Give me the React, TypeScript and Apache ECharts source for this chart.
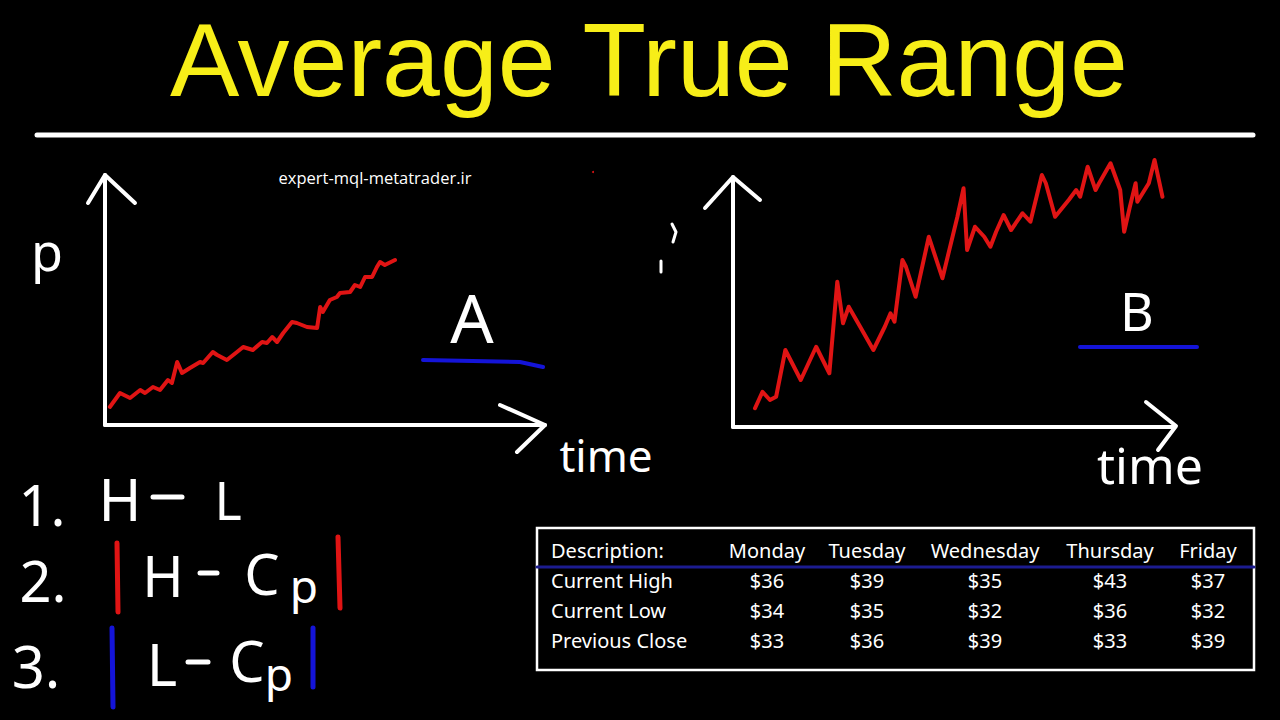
import React, { useEffect, useRef } from "react";
import * as echarts from "echarts";

// Chart A: slow, steady uptrend (time units 0..100, price units 0..100)
const chartATime = [1.1, 3.4, 5.7, 8.0, 9.1, 10.9, 12.5, 14.3, 15.2, 16.4, 17.5, 19.3, 21.6, 22.3, 24.5, 25.5, 27.7, 30.0, 31.4, 33.6, 35.7, 36.8, 38.0, 39.1, 40.5, 42.5, 43.6, 45.9, 48.2, 48.9, 49.5, 51.1, 52.7, 53.4, 55.7, 56.8, 58.0, 59.1, 60.7, 61.8, 62.5, 63.6, 65.9];
const chartAPrice = [7.2, 12.8, 10.8, 14.0, 12.8, 15.2, 14.0, 18.0, 16.8, 25.2, 20.8, 22.8, 25.2, 24.8, 29.2, 28.0, 26.0, 29.2, 31.2, 30.0, 33.2, 32.8, 35.2, 33.2, 36.8, 41.2, 40.8, 39.2, 38.8, 47.2, 45.2, 50.0, 51.2, 52.8, 53.2, 56.0, 55.2, 59.2, 59.2, 63.2, 65.2, 64.0, 66.0];

// Chart B: volatile uptrend
const chartBTime = [5.0, 6.7, 8.4, 9.8, 11.9, 15.4, 18.9, 21.9, 23.7, 25.0, 26.3, 28.9, 31.9, 34.5, 35.8, 36.7, 38.5, 39.3, 41.5, 44.5, 47.6, 51.0, 52.4, 53.2, 55.0, 57.1, 58.5, 59.8, 61.5, 63.2, 65.8, 67.6, 70.2, 71.1, 73.2, 76.3, 78.0, 78.9, 80.6, 82.4, 83.2, 85.8, 88.0, 88.9, 90.2, 91.5, 91.9, 94.5, 95.8, 97.6];
const chartBPrice = [7.5, 14.1, 10.8, 12.1, 30.8, 18.8, 32.1, 21.5, 58.1, 41.5, 48.1, 40.1, 30.8, 40.1, 45.5, 42.1, 66.8, 64.1, 52.1, 76.1, 59.5, 84.1, 95.5, 70.8, 80.1, 76.1, 72.1, 78.1, 84.8, 78.8, 85.5, 82.1, 100.8, 97.5, 84.1, 90.8, 94.8, 92.1, 104.1, 94.8, 97.5, 105.5, 94.8, 78.1, 88.1, 97.5, 90.1, 97.5, 106.8, 92.1];

// Table
const tableHeader = "Description:";
const tableDays = ["Monday", "Tuesday", "Wednesday", "Thursday", "Friday"];
const rowLabels = ["Current High", "Current Low", "Previous Close"];
const currentHigh = [36, 39, 35, 43, 37];
const currentLow = [34, 35, 32, 36, 32];
const previousClose = [33, 36, 39, 33, 39];

const TITLE = "Average True Range";
const WATERMARK = "expert-mql-metatrader.ir";

const WHITE = "#ffffff";
const RED = "#e01414";
const BLUE = "#1414d8";
const NAVY = "#1c1c90";
const YELLOW = "#f7ee18";
const FONT = '"Noto Sans", "DejaVu Sans", sans-serif';

function txt(text: string, x: number, y: number, size: number, opts: any = {}) {
  const style: any = {
    text,
    fill: opts.fill || WHITE,
    fontSize: size,
    fontFamily: opts.family || FONT,
    fontWeight: opts.weight || "normal",
    align: opts.align || "center",
    verticalAlign: "middle",
  };
  if (opts.lineHeight) style.lineHeight = opts.lineHeight;
  return { type: "text", x, y, silent: true, style };
}

function seg(points: number[][], color: string, width: number) {
  return {
    type: "polyline",
    silent: true,
    shape: { points },
    style: { stroke: color, lineWidth: width, fill: "none", lineCap: "round", lineJoin: "round" },
  };
}

export default function App() {
  const ref = useRef<HTMLDivElement>(null);

  useEffect(() => {
    if (!ref.current) return;
    const chart = echarts.init(ref.current, undefined, { renderer: "svg" });

    const dataA = chartATime.map((t, i) => [t, chartAPrice[i]]);
    const dataB = chartBTime.map((t, i) => [t, chartBPrice[i]]);

    const axisCommon = {
      type: "value",
      min: 0,
      max: 100,
      axisLine: { show: true, onZero: false, lineStyle: { color: WHITE, width: 4, cap: "round" } },
      axisTick: { show: false },
      axisLabel: { show: false },
      splitLine: { show: false },
    };

    // table graphics
    const colX = [767, 867, 985, 1110, 1208];
    const rowY = [580, 610, 640];
    const rows = [currentHigh, currentLow, previousClose];
    const tableEls: any[] = [
      {
        type: "rect",
        silent: true,
        shape: { x: 537, y: 528, width: 717, height: 142 },
        style: { stroke: WHITE, lineWidth: 2.5, fill: "none" },
      },
      seg([[537, 567], [1254, 567]], NAVY, 3),
      txt(tableHeader, 551, 550, 20, { align: "left" }),
    ];
    tableDays.forEach((d, i) => tableEls.push(txt(d, colX[i], 550, 20)));
    rowLabels.forEach((lab, r) => {
      tableEls.push(txt(lab, 551, rowY[r], 20, { align: "left" }));
      rows[r].forEach((v, i) => tableEls.push(txt("$" + v, colX[i], rowY[r], 20)));
    });

    const option: any = {
      animation: false,
      backgroundColor: "#000000",
      grid: [
        { left: 105, top: 175, width: 440, height: 250 },
        { left: 733, top: 177, width: 440, height: 250 },
      ],
      xAxis: [
        { ...axisCommon, gridIndex: 0 },
        { ...axisCommon, gridIndex: 1 },
      ],
      yAxis: [
        { ...axisCommon, gridIndex: 0 },
        { ...axisCommon, gridIndex: 1 },
      ],
      series: [
        {
          type: "line",
          xAxisIndex: 0,
          yAxisIndex: 0,
          data: dataA,
          symbol: "none",
          clip: false,
          lineStyle: { color: RED, width: 4, cap: "round", join: "round" },
        },
        {
          type: "line",
          xAxisIndex: 1,
          yAxisIndex: 1,
          data: dataB,
          symbol: "none",
          clip: false,
          lineStyle: { color: RED, width: 4, cap: "round", join: "round" },
        },
      ],
      graphic: [
        txt(TITLE, 649, 60, 104, {
          fill: YELLOW,
          family: '"Liberation Sans", Arial, sans-serif',
        }),
        seg([[37, 135], [1253, 135]], WHITE, 5),
        txt(WATERMARK, 375, 177, 16.5, { family: '"Open Sans", "Noto Sans", sans-serif' }),
        { type: "circle", silent: true, shape: { cx: 593, cy: 172, r: 1 }, style: { fill: RED } },

        // chart A decorations
        seg([[88, 203], [105, 175], [135, 203]], WHITE, 4),
        seg([[500, 405], [545, 425], [517, 452]], WHITE, 4),
        txt("p", 47, 250, 52),
        txt("time", 606, 455, 44),
        txt("A", 472, 316, 68),
        seg([[423, 360], [520, 362], [543, 367]], BLUE, 4),

        // stray marks
        seg([[672, 224], [676, 232], [673, 242]], WHITE, 3),
        seg([[661, 261], [661, 272]], WHITE, 3),

        // chart B decorations
        seg([[705, 208], [733, 177], [760, 200]], WHITE, 4),
        seg([[1146, 402], [1176, 426], [1158, 450]], WHITE, 4),
        txt("time", 1150, 465, 50),
        txt("B", 1137, 310, 52),
        seg([[1080, 347], [1197, 347]], BLUE, 4),

        // formulas
        txt("1.", 42, 504, 56),
        txt("H", 120, 498, 58),
        seg([[153, 497], [182, 497]], WHITE, 5),
        txt("L", 228, 499, 52),

        txt("2.", 43, 580, 56),
        seg([[117, 543], [118, 612]], RED, 5),
        txt("H", 163, 575, 56),
        seg([[200, 573], [217, 573]], WHITE, 5),
        txt("C", 262, 573, 56),
        txt("p", 304, 585, 46),
        seg([[338, 537], [340, 608]], RED, 5),

        txt("3.", 36, 665, 58),
        seg([[112, 628], [113, 707]], BLUE, 5),
        txt("L", 162, 663, 58),
        seg([[188, 662], [208, 662]], WHITE, 5),
        txt("C", 247, 660, 56),
        txt("p", 279, 673, 46),
        seg([[313, 628], [313, 687]], BLUE, 5),

        ...tableEls,
      ],
    };

    chart.setOption(option);
    return () => chart.dispose();
  }, []);

  return (
    <div
      ref={ref}
      style={{ position: "fixed", left: 0, top: 0, width: 1280, height: 720, background: "#000" }}
    />
  );
}
